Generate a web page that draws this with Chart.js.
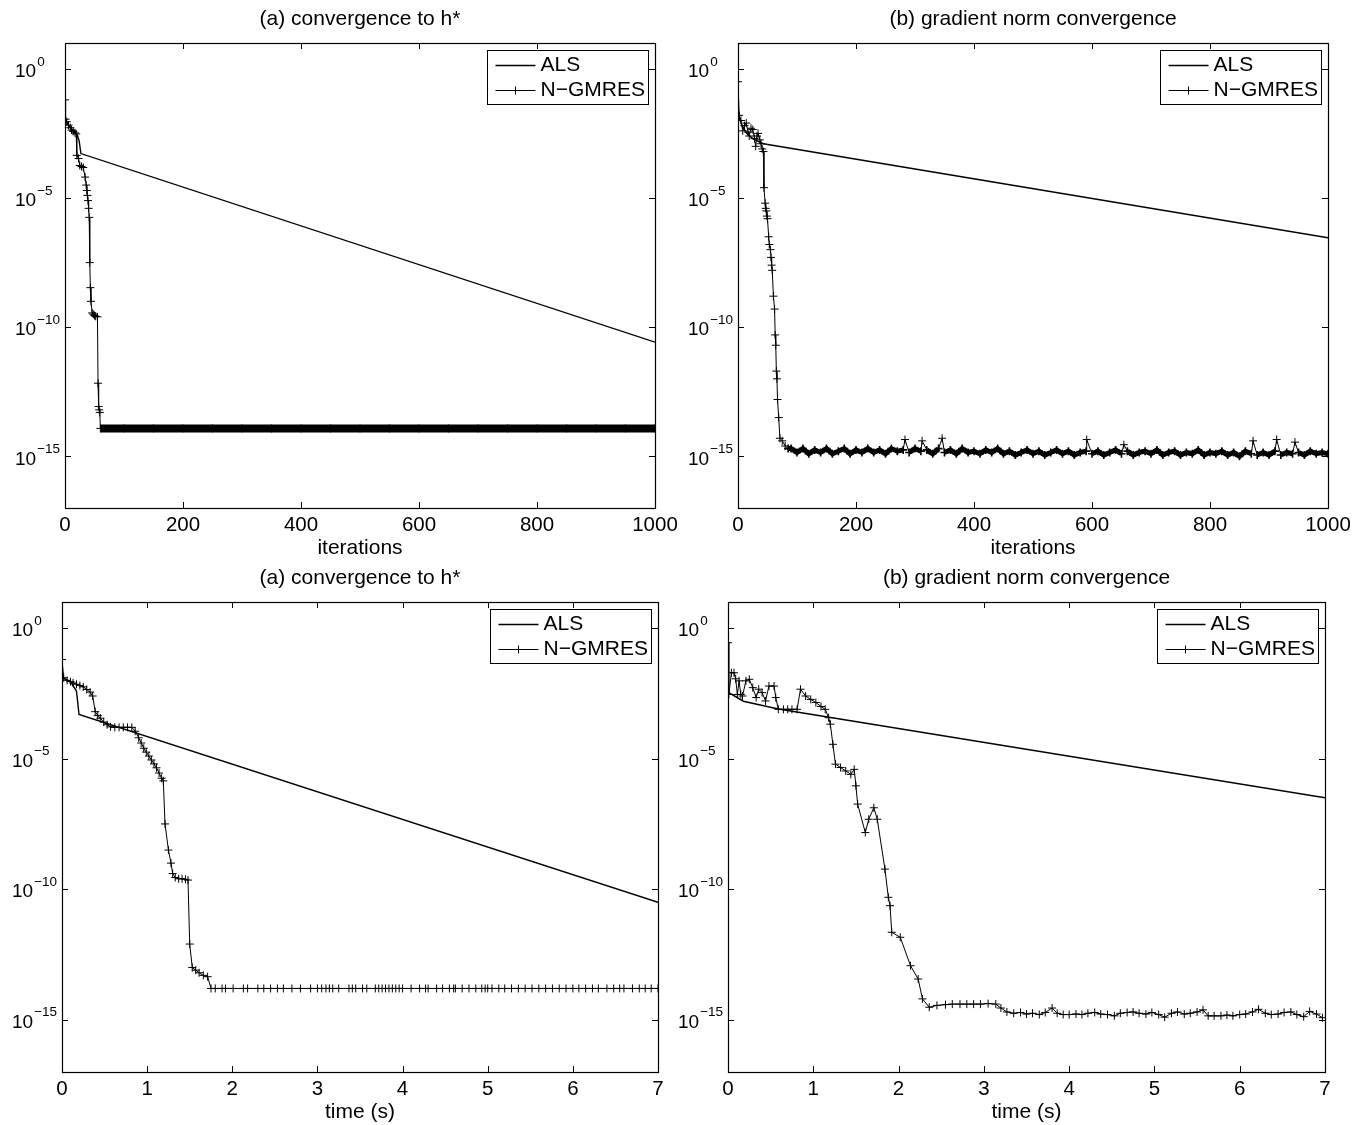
<!DOCTYPE html>
<html>
<head>
<meta charset="utf-8">
<title>ALS vs N-GMRES convergence</title>
<script src="https://cdn.jsdelivr.net/npm/chart.js@4/dist/chart.umd.min.js"></script>
<style>
  html, body { margin: 0; padding: 0; background: #fff; }
  #wrap { position: relative; width: 1354px; height: 1125px; }
  canvas { position: absolute; }
</style>
</head>
<body>
<div id="wrap">
  <canvas id="tl" width="677" height="562" style="left:0;top:0"></canvas>
  <canvas id="tr" width="677" height="562" style="left:677px;top:0"></canvas>
  <canvas id="bl" width="677" height="563" style="left:0;top:562px"></canvas>
  <canvas id="br" width="677" height="563" style="left:677px;top:562px"></canvas>
</div>
<script>
// ═══════════════════════════════════════════════
// DATA  (y values stored as base-10 exponents)
// ═══════════════════════════════════════════════

const Y_TICK_EXP = [0, -5, -10, -15];
const ITER_TICKS = [0, 200, 400, 600, 800, 1000];
const TIME_TICKS = [0, 1, 2, 3, 4, 5, 6, 7];

// ── (a) convergence to h*, per iteration ─────────
const tlAlsIter = [0, 5, 10, 15, 21, 24, 27, 1000];
const tlAlsExp = [-1.95, -2.15, -2.3, -2.42, -2.57, -2.8, -3.28, -10.58];

const tlNgIter = [
  0, 1, 3, 6, 9, 11, 14, 17, 19, 20, 23, 25, 28, 31, 34, 36, 37, 38, 39, 40,
  41, 42, 43, 44, 46, 48, 50, 52, 55, 56, 57, 58, 59, 60,
  100, 150, 200, 250, 300, 350, 400, 450, 500, 550, 600, 650, 700, 750, 800,
  850, 900, 950, 1000,
];
const tlNgExp = [
  -1.2, -1.95, -2.05, -2.18, -2.28, -2.37, -2.42, -2.48, -2.52, -3.35, -3.47, -3.74, -3.78, -3.82, -4.19, -4.5, -4.71, -4.9, -5.1, -5.4,
  -5.75, -7.5, -8.47, -9.0, -9.45, -9.5, -9.55, -9.58, -9.6, -12.17, -13.07, -13.2, -13.3, -13.92,
  -13.92, -13.92, -13.92, -13.92, -13.92, -13.92, -13.92, -13.92, -13.92, -13.92, -13.92, -13.92, -13.92, -13.92, -13.92,
  -13.92, -13.92, -13.92, -13.92,
];

// ── (b) gradient norm convergence, per iteration ─
const trAlsIter = [0, 3, 8, 15, 25, 35, 43, 1000];
const trAlsExp = [-1.6, -1.95, -2.25, -2.5, -2.7, -2.82, -2.9, -6.54];

const trNgIter = [
  0, 2, 5, 8, 11, 14, 17, 19, 22, 25, 28, 30, 32, 34, 37, 39, 41, 43, 44, 46,
  47, 48, 49, 50, 52, 53, 55, 56, 57, 58, 60, 62, 63, 64, 65, 66, 67, 69, 71, 75,
  80, 85, 90, 100, 110, 120, 130, 140, 150, 160, 170, 180, 190, 200, 210, 220, 230, 240,
  250, 260, 270, 280, 283, 290, 300, 310, 312, 320, 330, 340, 346, 350, 360, 370, 380,
  390, 400, 410, 420, 430, 440, 450, 460, 470, 480, 490, 500, 510, 520, 530, 540, 550,
  560, 570, 580, 590, 591, 600, 610, 620, 630, 640, 650, 654, 660, 670, 680, 690, 700,
  710, 720, 730, 740, 750, 760, 770, 780, 790, 800, 810, 820, 830, 840, 850, 860, 870,
  873, 880, 890, 900, 910, 913, 920, 930, 940, 944, 950, 960, 970, 980, 990, 1000,
];
const trNgExp = [
  -0.5, -1.8, -2.0, -2.4, -2.2, -2.1, -2.45, -2.6, -2.3, -2.35, -2.7, -3.0, -2.6, -2.5, -2.75, -2.9, -3.1, -3.2, -4.6, -5.2,
  -5.4, -5.5, -5.7, -5.8, -6.5, -6.8, -7.0, -7.3, -7.6, -7.8, -8.8, -9.3, -10.3, -10.7, -11.7, -12.0, -12.8, -13.5, -14.3, -14.4,
  -14.6, -14.7, -14.7, -14.85, -14.7, -14.9, -14.75, -14.85, -14.7, -14.9, -14.8, -14.7, -14.9, -14.75, -14.85, -14.7, -14.85, -14.75,
  -14.9, -14.7, -14.8, -14.75, -14.35, -14.85, -14.7, -14.8, -14.4, -14.75, -14.9, -14.7, -14.3, -14.85, -14.75, -14.9, -14.7,
  -14.85, -14.8, -14.9, -14.75, -14.85, -14.7, -14.9, -14.8, -14.95, -14.85, -14.75, -14.9, -14.8, -14.95, -14.85, -14.75, -14.9,
  -14.8, -14.95, -14.85, -14.8, -14.35, -14.9, -14.8, -14.95, -14.85, -14.75, -14.9, -14.55, -14.8, -14.95, -14.85, -14.8, -14.9,
  -14.75, -14.95, -14.85, -14.8, -14.95, -14.85, -14.9, -14.75, -14.95, -14.85, -14.9, -14.8, -14.95, -14.85, -15.0, -14.8, -14.9,
  -14.4, -14.95, -14.85, -14.95, -14.8, -14.35, -14.95, -14.85, -14.9, -14.45, -14.85, -14.95, -14.8, -14.9, -14.85, -14.9,
];

// ── (a) convergence to h*, per second ────────────
const blAlsTime = [0, 0.1, 0.17, 0.2, 7];
const blAlsExp = [-1.9, -2.05, -2.41, -3.31, -10.5];

const blNgTime = [
  0, 0.02, 0.06, 0.1, 0.13, 0.17, 0.21, 0.25, 0.29, 0.33, 0.36, 0.39, 0.42, 0.45, 0.49, 0.53, 0.57, 0.62, 0.67, 0.72,
  0.77, 0.82, 0.86, 0.9, 0.93, 0.96, 0.99, 1.02, 1.05, 1.08, 1.11, 1.14, 1.17, 1.19, 1.21, 1.25, 1.28, 1.3, 1.33, 1.37,
  1.41, 1.45, 1.48, 1.5, 1.53, 1.57, 1.61, 1.66, 1.71, 1.75,
  1.8, 1.88, 1.92, 2.01, 2.13, 2.18, 2.3, 2.37, 2.45, 2.53, 2.6, 2.7, 2.8, 2.92, 3.0, 3.05, 3.1, 3.14, 3.18, 3.25,
  3.37, 3.41, 3.45, 3.53, 3.58, 3.68, 3.72, 3.76, 3.8, 3.84, 3.88, 3.92, 3.96, 4.0, 4.1, 4.2, 4.27, 4.3, 4.4, 4.47,
  4.55, 4.6, 4.62, 4.7, 4.78, 4.86, 4.93, 4.97, 5.0, 5.05, 5.13, 5.2, 5.28, 5.36, 5.44, 5.52, 5.6, 5.68, 5.76, 5.84,
  5.92, 6.0, 6.07, 6.15, 6.23, 6.3, 6.4, 6.48, 6.55, 6.6, 6.7, 6.78, 6.85, 6.92, 7.0,
];
const blNgExp = [
  -1.2, -1.9, -2.0, -2.05, -2.1, -2.15, -2.2, -2.25, -2.35, -2.45, -2.6, -3.2, -3.35, -3.45, -3.6, -3.7, -3.78, -3.8, -3.8, -3.8,
  -3.8, -3.8, -3.95, -4.2, -4.4, -4.6, -4.75, -4.9, -5.05, -5.2, -5.35, -5.55, -5.75, -5.85, -7.5, -8.5, -9.0, -9.4, -9.55, -9.6,
  -9.6, -9.62, -9.65, -12.1, -13.0, -13.1, -13.2, -13.3, -13.35, -13.8,
  -13.8, -13.8, -13.8, -13.8, -13.8, -13.8, -13.8, -13.8, -13.8, -13.8, -13.8, -13.8, -13.8, -13.8, -13.8, -13.8, -13.8, -13.8, -13.8, -13.8,
  -13.8, -13.8, -13.8, -13.8, -13.8, -13.8, -13.8, -13.8, -13.8, -13.8, -13.8, -13.8, -13.8, -13.8, -13.8, -13.8, -13.8, -13.8, -13.8, -13.8,
  -13.8, -13.8, -13.8, -13.8, -13.8, -13.8, -13.8, -13.8, -13.8, -13.8, -13.8, -13.8, -13.8, -13.8, -13.8, -13.8, -13.8, -13.8, -13.8, -13.8,
  -13.8, -13.8, -13.8, -13.8, -13.8, -13.8, -13.8, -13.8, -13.8, -13.8, -13.8, -13.8, -13.8, -13.8, -13.8,
];

// ── (b) gradient norm convergence, per second ────
const brAlsTime = [0, 0.18, 0.59, 7];
const brAlsExp = [-2.45, -2.8, -3.1, -6.5];

const brNgTime = [
  0, 0.01, 0.04, 0.07, 0.09, 0.11, 0.13, 0.15, 0.17, 0.21, 0.25, 0.29, 0.33, 0.36, 0.4, 0.44, 0.48, 0.54, 0.56, 0.59,
  0.65, 0.7, 0.75, 0.81, 0.85, 0.91, 0.97, 1.03, 1.09, 1.14, 1.18, 1.2, 1.23, 1.26, 1.32, 1.38, 1.44, 1.48, 1.5, 1.52,
  1.61, 1.65, 1.71, 1.75, 1.84, 1.88, 1.9, 1.92, 2.02, 2.14, 2.23, 2.28,
  2.36, 2.45, 2.55, 2.63, 2.72, 2.8, 2.88, 2.96, 3.05, 3.14, 3.2, 3.27, 3.35, 3.43, 3.5, 3.57, 3.65, 3.72, 3.8, 3.86,
  3.93, 4.0, 4.08, 4.15, 4.22, 4.3, 4.37, 4.45, 4.53, 4.6, 4.68, 4.75, 4.82, 4.9, 4.97, 5.05, 5.12, 5.2, 5.27, 5.35,
  5.42, 5.5, 5.57, 5.63, 5.7, 5.78, 5.85, 5.92, 6.0, 6.07, 6.15, 6.22, 6.3, 6.37, 6.45, 6.52, 6.6, 6.67, 6.75, 6.82,
  6.9, 6.97,
];
const brNgExp = [
  -0.56, -2.54, -1.71, -1.71, -1.94, -2.54, -2.02, -2.54, -2.6, -2.02, -1.96, -2.28, -2.66, -2.34, -2.47, -2.79, -2.22, -2.22, -2.66, -3.11,
  -3.11, -3.11, -3.11, -3.11, -2.34, -2.6, -2.73, -2.85, -3.0, -3.11, -3.43, -3.68, -4.45, -5.21, -5.34, -5.47, -5.6, -5.41, -6.04, -6.74,
  -7.83, -7.32, -6.88, -7.32, -9.23, -10.31, -10.63, -11.65, -11.84, -12.93, -13.44, -14.2,
  -14.52, -14.45, -14.42, -14.4, -14.4, -14.4, -14.4, -14.4, -14.38, -14.4, -14.55, -14.7, -14.75, -14.72, -14.78, -14.75, -14.8, -14.72, -14.55, -14.75,
  -14.8, -14.8, -14.78, -14.8, -14.75, -14.72, -14.78, -14.8, -14.85, -14.75, -14.72, -14.7, -14.75, -14.78, -14.72, -14.8, -14.9, -14.75, -14.7, -14.78,
  -14.75, -14.7, -14.62, -14.85, -14.85, -14.85, -14.82, -14.85, -14.8, -14.78, -14.7, -14.6, -14.75, -14.8, -14.78, -14.72, -14.7, -14.8, -14.88, -14.68,
  -14.78, -14.92,
];

// ═══════════════════════════════════════════════
// DRAWING
// ═══════════════════════════════════════════════

const FONT = '"Liberation Sans", Arial, Helvetica, sans-serif';
const INK = '#000';

const toPoints = (xs, es) => xs.map((x, i) => ({ x, y: Math.pow(10, es[i]) }));

// Frame, inward ticks, tick labels, titles and the boxed legend (MATLAB look)
function framePlugin(cfg) {
  return {
    id: 'frame',
    afterDraw(chart) {
      const { ctx, chartArea: a } = chart;
      const xs = chart.scales.x;
      const ys = chart.scales.y;
      ctx.save();
      ctx.strokeStyle = INK;
      ctx.fillStyle = INK;
      ctx.lineWidth = 1.2;
      ctx.strokeRect(Math.round(a.left) + 0.5, Math.round(a.top) + 0.5,
        Math.round(a.right - a.left), Math.round(a.bottom - a.top));

      ctx.lineWidth = 1;
      ctx.beginPath();
      cfg.xTicks.forEach((v) => {
        const px = Math.round(xs.getPixelForValue(v)) + 0.5;
        ctx.moveTo(px, a.bottom); ctx.lineTo(px, a.bottom - 6);
        ctx.moveTo(px, a.top); ctx.lineTo(px, a.top + 6);
      });
      Y_TICK_EXP.forEach((e) => {
        const py = Math.round(ys.getPixelForValue(Math.pow(10, e))) + 0.5;
        ctx.moveTo(a.left, py); ctx.lineTo(a.left + 6, py);
        ctx.moveTo(a.right, py); ctx.lineTo(a.right - 6, py);
      });
      ctx.stroke();

      // x tick labels
      ctx.textAlign = 'center';
      ctx.textBaseline = 'middle';
      ctx.font = `20.5px ${FONT}`;
      cfg.xTicks.forEach((v) => ctx.fillText(String(v), xs.getPixelForValue(v), a.bottom + 17));

      // y tick labels: 10 with a raised exponent
      ctx.textAlign = 'left';
      Y_TICK_EXP.forEach((e) => {
        const py = ys.getPixelForValue(Math.pow(10, e));
        const lx = Math.max(0, a.left - 50);
        ctx.font = `19px ${FONT}`;
        ctx.fillText('10', lx, py + 3);
        const w = ctx.measureText('10').width;
        ctx.font = `13.5px ${FONT}`;
        ctx.fillText(e === 0 ? '0' : '\u2212' + (-e), lx + w + 1, py - 7);
      });

      // titles
      const cx = (a.left + a.right) / 2;
      ctx.textAlign = 'center';
      ctx.font = `21px ${FONT}`;
      ctx.fillText(cfg.title, cx, a.top - 24);
      ctx.fillText(cfg.xTitle, cx, a.bottom + 40);

      // legend
      const lw = 161, lh = 54;
      const lx = Math.round(a.right - 7 - lw) + 0.5;
      const ly = Math.round(a.top + 7) + 0.5;
      ctx.fillStyle = '#fff';
      ctx.fillRect(lx, ly, lw, lh);
      ctx.strokeStyle = INK;
      ctx.lineWidth = 1;
      ctx.strokeRect(lx, ly, lw, lh);
      ctx.beginPath();
      ctx.lineWidth = 1.4;
      ctx.moveTo(lx + 8, ly + 15); ctx.lineTo(lx + 48, ly + 15);
      ctx.stroke();
      ctx.beginPath();
      ctx.lineWidth = 1;
      ctx.moveTo(lx + 8, ly + 40); ctx.lineTo(lx + 48, ly + 40);
      ctx.moveTo(lx + 28, ly + 36); ctx.lineTo(lx + 28, ly + 44);
      ctx.stroke();
      ctx.fillStyle = INK;
      ctx.textAlign = 'left';
      ctx.font = `21px ${FONT}`;
      ctx.fillText('ALS', lx + 53, ly + 15);
      ctx.fillText('N\u2212GMRES', lx + 53, ly + 40);
      ctx.restore();
    },
  };
}

function renderPanel(id, cfg) {
  const canvas = document.getElementById(id);
  const below = cfg.barBelowExp != null ? Math.pow(10, cfg.barBelowExp) : 0;
  const onFloor = (p) => cfg.barFrom != null && p.x >= cfg.barFrom && p.y < below;
  return new Chart(canvas, {
    type: 'line',
    data: {
      datasets: [
        {
          label: 'ALS',
          data: toPoints(cfg.alsX, cfg.alsExp),
          borderColor: INK,
          borderWidth: 1.4,
          pointRadius: 0,
          tension: 0,
        },
        {
          label: 'N-GMRES',
          data: toPoints(cfg.ngX, cfg.ngExp),
          borderColor: INK,
          borderWidth: 1,
          pointStyle: 'cross',
          pointRadius: 4,
          pointBorderWidth: (c) => (c.parsed && onFloor(c.parsed) ? cfg.floorMark : 1),
          pointBorderColor: INK,
          tension: 0,
          segment: {
            // the dense "+" markers on the floor merge into a dark bar
            borderWidth: (c) => (onFloor(c.p0.parsed) && onFloor(c.p1.parsed) ? cfg.barWidth : undefined),
          },
        },
      ],
    },
    options: {
      responsive: false,
      animation: false,
      events: [],
      layout: { padding: cfg.pad },
      plugins: { legend: { display: false }, tooltip: { enabled: false } },
      scales: {
        x: { type: 'linear', display: false, min: 0, max: cfg.xMax },
        y: { type: 'logarithmic', display: false, min: 1e-17, max: 10 },
      },
    },
    plugins: [framePlugin(cfg)],
  });
}

renderPanel('tl', {
  alsX: tlAlsIter, alsExp: tlAlsExp, ngX: tlNgIter, ngExp: tlNgExp,
  xMax: 1000, xTicks: ITER_TICKS, barFrom: 60, barBelowExp: -13.5, barWidth: 8, floorMark: 1,
  title: '(a) convergence to h*', xTitle: 'iterations',
  pad: { left: 65, top: 43, right: 22, bottom: 54 },
});
renderPanel('tr', {
  alsX: trAlsIter, alsExp: trAlsExp, ngX: trNgIter, ngExp: trNgExp,
  xMax: 1000, xTicks: ITER_TICKS, barFrom: 85, barBelowExp: -14.6, barWidth: 5, floorMark: 1.6,
  title: '(b) gradient norm convergence', xTitle: 'iterations',
  pad: { left: 61, top: 43, right: 26, bottom: 54 },
});
renderPanel('bl', {
  alsX: blAlsTime, alsExp: blAlsExp, ngX: blNgTime, ngExp: blNgExp,
  xMax: 7, xTicks: TIME_TICKS,
  title: '(a) convergence to h*', xTitle: 'time (s)',
  pad: { left: 62, top: 40, right: 19, bottom: 53 },
});
renderPanel('br', {
  alsX: brAlsTime, alsExp: brAlsExp, ngX: brNgTime, ngExp: brNgExp,
  xMax: 7, xTicks: TIME_TICKS,
  title: '(b) gradient norm convergence', xTitle: 'time (s)',
  pad: { left: 51, top: 40, right: 29, bottom: 53 },
});
</script>
</body>
</html>
